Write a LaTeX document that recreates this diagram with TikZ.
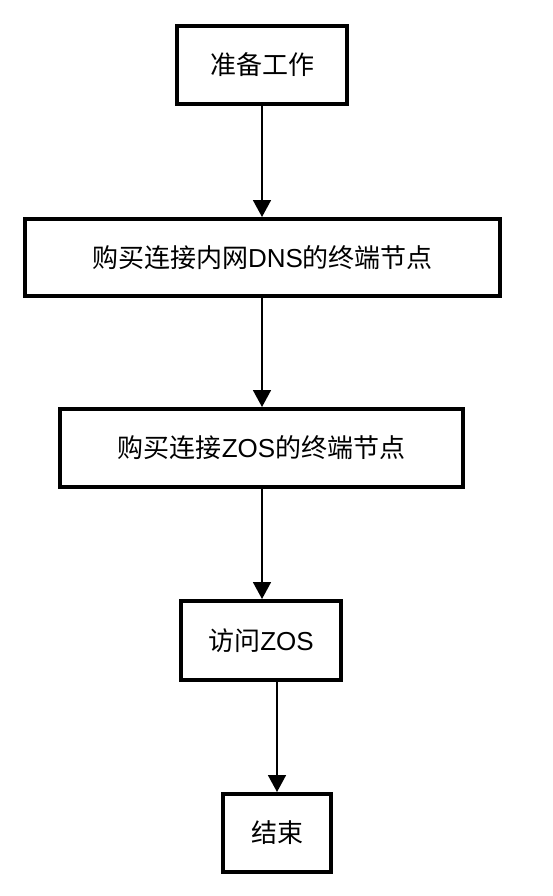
\documentclass[tikz,border=0pt]{standalone}
\usepackage{fontspec}
\setmainfont{Liberation Sans}
\newfontfamily\cjk{Noto Sans CJK SC}
\usetikzlibrary{arrows.meta}
\begin{document}
\begin{tikzpicture}[x=1pt,y=-1pt,
  stepbox/.style={draw=black,line width=4pt,fill=white,inner sep=0pt,font=\fontsize{26}{30}\selectfont},
  flow/.style={draw=black,line width=1.8pt,-{Triangle[length=17pt,width=18pt]}}]
\useasboundingbox (0,0) rectangle (552,896);
\node[stepbox,minimum width=170pt,minimum height=78pt] (a) at (262,65) {\cjk 准备工作};
\node[stepbox,minimum width=475pt,minimum height=77pt] (b) at (262.5,257.5) {{\cjk 购买连接内网}DNS{\cjk 的终端节点}};
\node[stepbox,minimum width=403pt,minimum height=78pt] (c) at (261.5,448) {{\cjk 购买连接}ZOS{\cjk 的终端节点}};
\node[stepbox,minimum width=160pt,minimum height=79pt] (d) at (261,640.5) {{\cjk 访问}ZOS};
\node[stepbox,minimum width=108pt,minimum height=78pt] (e) at (277,833) {\cjk 结束};
\draw[flow] (a.south -| 262,0) -- (b.north -| 262,0);
\draw[flow] (b.south -| 262,0) -- (c.north -| 262,0);
\draw[flow] (c.south -| 262,0) -- (d.north -| 262,0);
\draw[flow] (d.south -| 277,0) -- (e.north);
\end{tikzpicture}
\end{document}
